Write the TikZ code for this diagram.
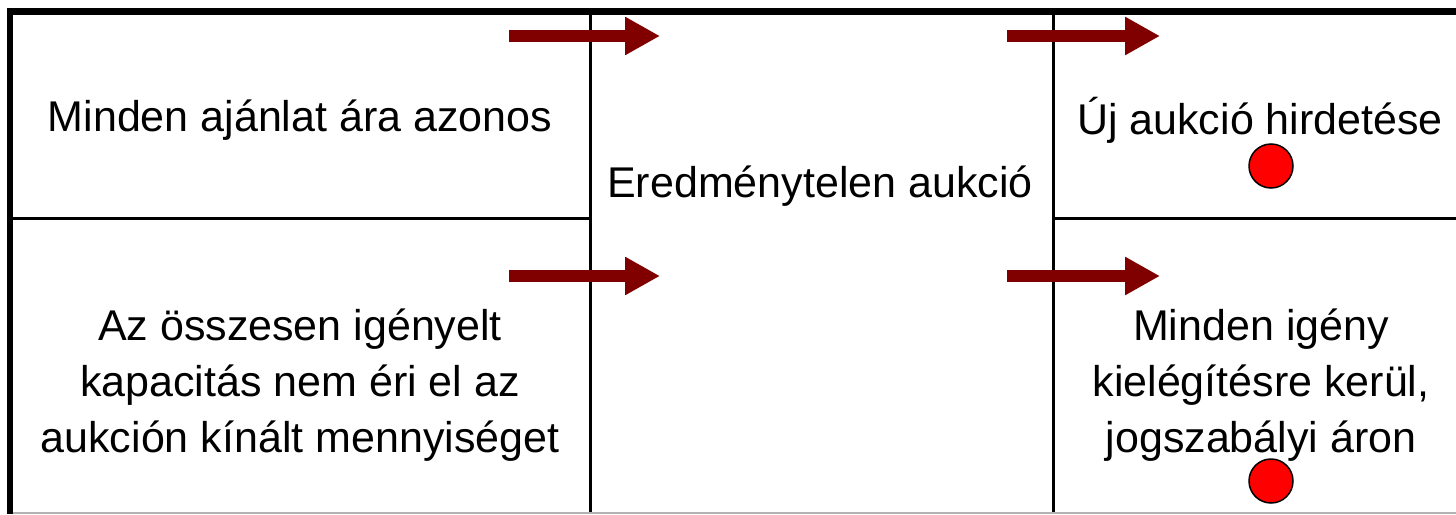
\documentclass[tikz,border=0pt]{standalone}
\usepackage{fontspec}
\setmainfont{Liberation Sans}
\usetikzlibrary{arrows.meta}
\definecolor{arrowred}{HTML}{800000}
\begin{document}
\begin{tikzpicture}[x=1pt,y=-1pt,
  frame/.style={line width=6.5pt},
  grid/.style={line width=3pt},
  lbl/.style={font=\fontsize{43}{56}\selectfont, align=center, inner sep=0pt},
  bigarrow/.style={arrowred, line width=12pt, -{Triangle[length=35pt,width=36pt]}},
  dot/.style={circle, draw=black, line width=1.5pt, fill=red, minimum size=44pt, inner sep=0pt}]
\useasboundingbox (0,0) rectangle (1456,514);
\fill[white] (0,0) rectangle (1456,514);
% grid
\draw[grid] (590,11) -- (590,514);
\draw[grid] (1053,11) -- (1053,514);
\draw[grid] (10,218) -- (590,218);
\draw[grid] (1053,218) -- (1456,218);
\draw[gray!60, line width=1.5pt] (10,513) -- (1456,513);
\draw[frame] (1456,11.5) -- (10,11.5) -- (10,514);
% texts
\node[lbl] (t1) at (300,120) {Minden ajánlat ára azonos};
\node[lbl] (t2) at (300,385) {Az összesen igényelt\\kapacitás nem éri el az\\aukción kínált mennyiséget};
\node[lbl] (t3) at (820,186) {Eredménytelen aukció};
\node[lbl] (t4) at (1260,120) {Új aukció hirdetése};
\node[lbl] (t5) at (1261,385) {Minden igény\\kielégítésre kerül,\\jogszabályi áron};
% dots
\node[dot] (d1) at (1271,166) {};
\node[dot] (d2) at (1271,481) {};
% arrows
\coordinate (a1s) at (509,36); \coordinate (a1e) at (660,36);
\coordinate (a2s) at (1007,36); \coordinate (a2e) at (1160,36);
\coordinate (a3s) at (509,276); \coordinate (a3e) at (660,276);
\coordinate (a4s) at (1007,276); \coordinate (a4e) at (1160,276);
\draw[bigarrow] (a1s) -- (a1e);
\draw[bigarrow] (a2s) -- (a2e);
\draw[bigarrow] (a3s) -- (a3e);
\draw[bigarrow] (a4s) -- (a4e);
\end{tikzpicture}
\end{document}
